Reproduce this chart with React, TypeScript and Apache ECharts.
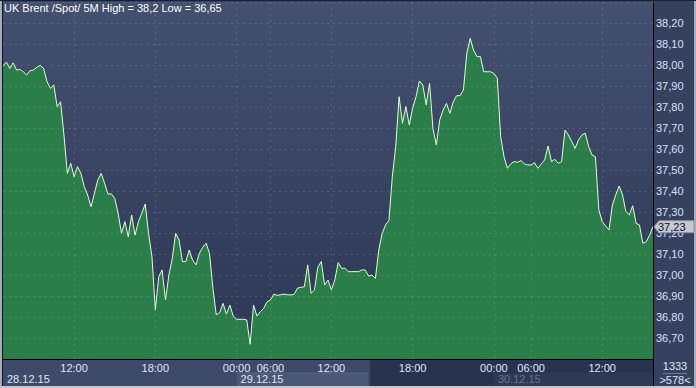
import React, { useEffect, useRef } from 'react';
import * as echarts from 'echarts';

// ---------- data ----------
const titleText = 'UK Brent /Spot/ 5M High = 38,2 Low = 36,65';

// 15-minute samples of the 5M price line, 28.12.15 06:45 -> 30.12.15 ~15:40
const prices28 = [
  37.995, 38.014, 37.984, 38.01, 37.976, 37.979, 37.968, 37.952, 37.973, 37.976,
  37.989, 37.998, 37.984, 37.921, 37.889, 37.905, 37.802, 37.825, 37.667, 37.484,
  37.532, 37.468, 37.516, 37.484, 37.421, 37.381, 37.325, 37.389, 37.452, 37.484,
  37.437, 37.386, 37.386, 37.365, 37.294, 37.198, 37.254, 37.182, 37.286, 37.19,
  37.254, 37.294, 37.338, 37.198, 37.087, 36.833, 36.992, 37.024, 36.881, 37.0,
  37.079, 37.198, 37.167, 37.064, 37.064, 37.119, 37.071, 37.048, 37.103, 37.132,
  37.151, 37.103, 36.937, 36.81, 36.821, 36.865, 36.814, 36.857, 36.805,
];
const prices29 = [
  36.789, 36.789, 36.789, 36.786, 36.67, 36.857, 36.805, 36.825, 36.841, 36.873,
  36.881, 36.909, 36.903, 36.906, 36.909, 36.906, 36.905, 36.908, 36.938, 36.941,
  36.944, 37.048, 36.913, 36.929, 37.037, 37.064, 36.952, 36.976, 36.929, 36.976,
  37.059, 37.032, 37.032, 37.016, 37.016, 37.016, 37.016, 37.024, 37.024, 36.995,
  37.0, 36.984, 37.119, 37.198, 37.238, 37.26, 37.468, 37.611, 37.849, 37.722,
  37.802, 37.714, 37.794, 37.849, 37.924, 37.905, 37.81, 37.913, 37.698, 37.619,
  37.738, 37.786, 37.817, 37.77, 37.825, 37.854, 37.854, 37.881, 38.056, 38.127,
  38.071, 38.04, 38.04, 37.968, 37.968, 37.968,
];
const prices30 = [
  37.96, 37.937, 37.659, 37.563, 37.508, 37.53, 37.54, 37.537, 37.545, 37.529,
  37.524, 37.524, 37.535, 37.508, 37.529, 37.548, 37.614, 37.54, 37.551, 37.532,
  37.54, 37.69, 37.667, 37.635, 37.603, 37.643, 37.667, 37.675, 37.611, 37.571,
  37.563, 37.31, 37.254, 37.233, 37.214, 37.333, 37.381, 37.424, 37.381, 37.302,
  37.286, 37.33, 37.246, 37.238, 37.151, 37.159, 37.19, 37.23,
];

const tickIndex = [21, 45, 69, 79, 97, 121, 145, 156, 177];
const tickLabels = ['12:00', '18:00', '00:00', '06:00', '12:00', '18:00', '00:00', '06:00', '12:00'];
const dateLabels = ['28.12.15', '29.12.15', '30.12.15'];
const shadeStartIndex = 108;
const lastPrice = 37.23;
const totalBars = '1333';
const visibleBars = '>578<';
const yMin = 36.6;
const yMax = 38.3;
const yStep = 0.1;

// ---------- layout ----------
const W = 696;
const H = 388;
const GL = 3;
const GR = 653;
const GT = 2;
const GB = 359;
const FONT = "'Liberation Sans Narrow', 'Liberation Sans', Arial, sans-serif";

const prices = [...prices28, ...prices29, ...prices30];
const dayStart = [0, prices28.length, prices28.length + prices29.length];
const categories = prices.map((_, i) => String(i));
const labelAt: Record<number, string> = {};
tickIndex.forEach((t, k) => (labelAt[t] = tickLabels[k]));
const fmtPrice = (v: number) => v.toFixed(2).replace('.', ',');

export default function App() {
  const ref = useRef<HTMLDivElement>(null);

  useEffect(() => {
    document.body.style.margin = '0';
    const chart = echarts.init(ref.current!, null, { renderer: 'svg' });
    const isTick = (i: number) => labelAt[i] !== undefined;

    chart.setOption({
      animation: false,
      backgroundColor: '#35415f',
      grid: { left: GL, top: GT, width: GR - GL, height: GB - GT, containLabel: false },
      xAxis: {
        type: 'category',
        data: categories,
        boundaryGap: false,
        z: 3,
        axisLine: { show: true, lineStyle: { color: '#000', width: 1 } },
        axisTick: { show: false },
        axisLabel: {
          interval: (i: number) => isTick(i),
          formatter: (_v: string, i: number) => labelAt[i] ?? '',
          margin: 3,
          fontSize: 11,
          fontFamily: FONT,
          color: (_v: string, i: number) => (i > shadeStartIndex ? '#68738f' : '#dfe7fa'),
        },
        splitLine: {
          show: true,
          interval: (i: number) => isTick(i),
          lineStyle: { color: 'rgba(255,255,255,0.14)', type: [2, 4], width: 1 },
        },
      },
      yAxis: {
        type: 'value',
        position: 'right',
        min: yMin,
        max: yMax,
        interval: yStep,
        z: 3,
        axisLine: { show: true, lineStyle: { color: '#000', width: 1 } },
        axisTick: { show: false },
        axisLabel: {
          formatter: (v: number) => fmtPrice(v),
          showMinLabel: false,
          showMaxLabel: false,
          margin: 3,
          fontSize: 11,
          fontFamily: FONT,
          color: '#d6e1fb',
          padding: [7, 0, 0, 0],
        },
        splitLine: {
          show: true,
          lineStyle: { color: 'rgba(255,255,255,0.14)', type: [2, 4], width: 1 },
        },
      },
      series: [
        {
          type: 'line',
          data: prices,
          showSymbol: false,
          symbol: 'none',
          z: 2,
          lineStyle: { color: '#e2fdda', width: 1 },
          areaStyle: { color: '#2b7d4a', opacity: 1, origin: 'start' },
        },
      ],
    });

    const px = (i: number) => chart.convertToPixel({ xAxisIndex: 0 }, i) as number;
    const py = (v: number) => chart.convertToPixel({ yAxisIndex: 0 }, v) as number;
    const x29 = px(dayStart[1]);
    const x30 = px(dayStart[2]);
    const xShade = px(shadeStartIndex);
    const rowMid = 373;
    const axisBottom = 386;
    const tagY = py(lastPrice);

    const rect = (x: number, y: number, w: number, h: number, fill: any, z = 1) => ({
      type: 'rect',
      z,
      silent: true,
      shape: { x, y, width: w, height: h },
      style: { fill },
    });
    const text = (x: number, y: number, t: string, fill: string, align = 'left', z = 20) => ({
      type: 'text',
      z,
      silent: true,
      x,
      y,
      style: { text: t, fill, font: `11px ${FONT}`, align, verticalAlign: 'middle' },
    });

    const bg = new echarts.graphic.LinearGradient(0, 0, 0, 1, [
      { offset: 0, color: '#44506f' },
      { offset: 1, color: '#2c3755' },
    ]);

    chart.setOption({
      graphic: [
        rect(GL, GT, GR - GL, GB - GT, bg, 0),
        // bottom time axis bands
        rect(GL, GB, GR - GL, axisBottom - GB, '#3e4a69'),
        rect(x29, rowMid, xShade - x29, axisBottom - rowMid, '#4b5776'),
        { type: 'line', z: 2, silent: true, shape: { x1: x29, y1: rowMid, x2: xShade, y2: rowMid }, style: { stroke: '#5a6684', lineWidth: 1 } },
        rect(xShade, GB, GR - xShade, axisBottom - GB, '#283350', 2),
        rect(x30, rowMid, GR - x30, axisBottom - rowMid, '#2e3956', 2),
        { type: 'line', z: 3, silent: true, shape: { x1: xShade + 0.5, y1: GB, x2: xShade + 0.5, y2: axisBottom }, style: { stroke: '#4a5573', lineWidth: 1 } },
        // right axis separator continues down
        { type: 'line', z: 5, silent: true, shape: { x1: GR + 0.5, y1: GB, x2: GR + 0.5, y2: axisBottom }, style: { stroke: '#000', lineWidth: 1 } },
        // frame
        rect(0, 0, 2, H, '#a7acb6', 20),
        rect(2, 0, 1, H, '#10141f', 20),
        rect(0, axisBottom, W, H - axisBottom, '#c3c7cf', 20),
        rect(W - 2, 0, 2, H, '#a7acb6', 20),
        rect(0, 0, W, 1, '#1a2133', 20),
        // date labels
        text(px(dayStart[0]) + 4, 379, dateLabels[0], '#dfe7fa'),
        text(x29 + 4, 379, dateLabels[1], '#dfe7fa'),
        text(x30 + 4, 379, dateLabels[2], '#68738f'),
        // title
        text(4, 8, titleText, '#ffffff'),
        // last price tag
        {
          type: 'polygon',
          z: 21,
          silent: true,
          shape: { points: [[GR + 1, tagY], [GR + 6, tagY - 6], [W - 2, tagY - 6], [W - 2, tagY + 6], [GR + 6, tagY + 6]] },
          style: { fill: '#c4c8d2', stroke: '#8d93a3', lineWidth: 1 },
        },
        text(GR + 5, tagY, fmtPrice(lastPrice), '#101010', 'left', 22),
        // bar counters
        text(675, 366, totalBars, '#dfe7fa', 'center'),
        { type: 'line', z: 20, silent: true, shape: { x1: 663, y1: 373.5, x2: 687, y2: 373.5 }, style: { stroke: '#6f7a96', lineWidth: 1 } },
        text(675, 380, visibleBars, '#dfe7fa', 'center'),
      ],
    });

    return () => chart.dispose();
  }, []);

  return <div ref={ref} style={{ width: W, height: H, position: 'fixed', left: 0, top: 0 }} />;
}
